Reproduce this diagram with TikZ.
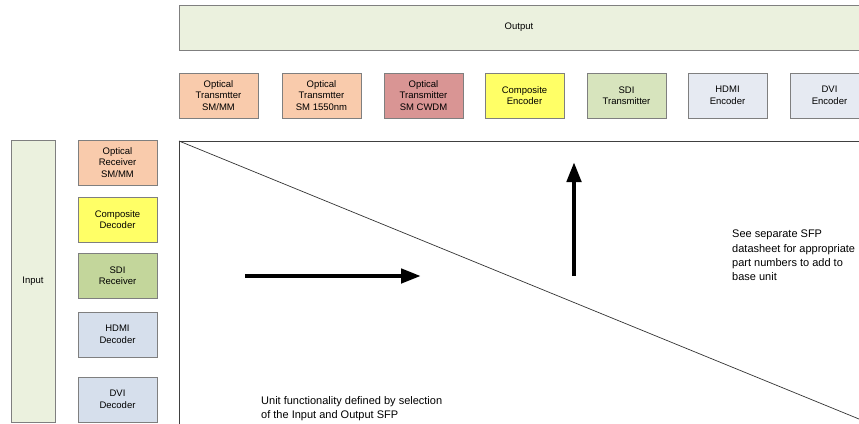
\documentclass[tikz,border=0pt]{standalone}
\usepackage{fontspec}
\setmainfont{Liberation Sans}
\usetikzlibrary{arrows.meta}
\definecolor{peach}{HTML}{F9CBAC}
\definecolor{berry}{HTML}{D99594}
\definecolor{yel}{HTML}{FFFF66}
\definecolor{lgreen}{HTML}{D7E4BD}
\definecolor{dgreen}{HTML}{C3D69B}
\definecolor{pale}{HTML}{EBF1DE}
\definecolor{lblue}{HTML}{E6EAF2}
\definecolor{mblue}{HTML}{D6DFEC}
\definecolor{edge}{HTML}{7F7F7F}
\tikzset{
  sfpbox/.style={draw=edge, line width=0.8pt, minimum width=79pt, minimum height=45pt,
    inner sep=0pt, align=center, font=\fontsize{9.5}{11.5}\selectfont},
  bigbox/.style={draw=edge, line width=0.8pt, inner sep=0pt, font=\fontsize{9.5}{11.5}\selectfont},
  fat/.style={line width=4.5pt, -{Triangle[length=20pt,width=14pt]}},
  note/.style={inner sep=0pt, align=left, font=\fontsize{11}{14.3}\selectfont, anchor=north west}
}
\begin{document}
\begin{tikzpicture}[x=1pt,y=-1pt]
\useasboundingbox (0,0) rectangle (859,423);
\clip (0,0) rectangle (859,423);
\fill[white] (0,0) rectangle (859,423);
% Output bar
\node[bigbox, fill=pale, minimum width=683pt, minimum height=45pt] (out) at (520.5,27.5) {};
\node[font=\fontsize{9.5}{11.5}\selectfont] (outl) at (519,27.5) {Output};
% top row
\node[sfpbox, fill=peach] (t1) at (218.5,95.5) {Optical\\Transmtter\\SM/MM};
\node[sfpbox, fill=peach] (t2) at (321.5,95.5) {Optical\\Transmtter\\SM 1550nm};
\node[sfpbox, fill=berry] (t3) at (423.5,95.5) {Optical\\Transmitter\\SM CWDM};
\node[sfpbox, fill=yel] (t4) at (524.5,95.5) {Composite\\Encoder};
\node[sfpbox, fill=lgreen] (t5) at (626.5,95.5) {SDI\\Transmitter};
\node[sfpbox, fill=lblue] (t6) at (727.5,95.5) {HDMI\\Encoder};
\node[sfpbox, fill=lblue] (t7) at (829.5,95.5) {DVI\\Encoder};
% input
\node[bigbox, fill=pale, minimum width=44pt, minimum height=282pt] (in) at (33,281) {Input};
% left column
\node[sfpbox, fill=peach] (l1) at (117.5,162.5) {Optical\\Receiver\\SM/MM};
\node[sfpbox, fill=yel] (l2) at (117.5,219.5) {Composite\\Decoder};
\node[sfpbox, fill=dgreen] (l3) at (117.5,275.5) {SDI\\Receiver};
\node[sfpbox, fill=mblue] (l4) at (117.5,334.5) {HDMI\\Decoder};
\node[sfpbox, fill=mblue] (l5) at (117.5,399.5) {DVI\\Decoder};
% main area
\node[draw=black!75, line width=0.9pt, minimum width=690pt, minimum height=290pt, inner sep=0pt, anchor=north west] (unit) at (179,141) {};
\coordinate (dend) at (859,419);
\draw[black!80, line width=0.7pt] (unit.north west) -- (dend);
% arrows
\coordinate (ha) at (245,276);
\coordinate (hb) at (421,276);
\draw[fat] (ha) -- (hb);
\coordinate (va) at (574,276);
\coordinate (vb) at (574,162);
\draw[fat] (va) -- (vb);
% notes
\node[note] (n1) at (732,230) {See separate SFP\\datasheet for appropriate\\part numbers to add to\\base unit};
\node[note] (n2) at (261,396) {Unit functionality defined by selection\\of the Input and Output SFP};
\end{tikzpicture}
\end{document}
